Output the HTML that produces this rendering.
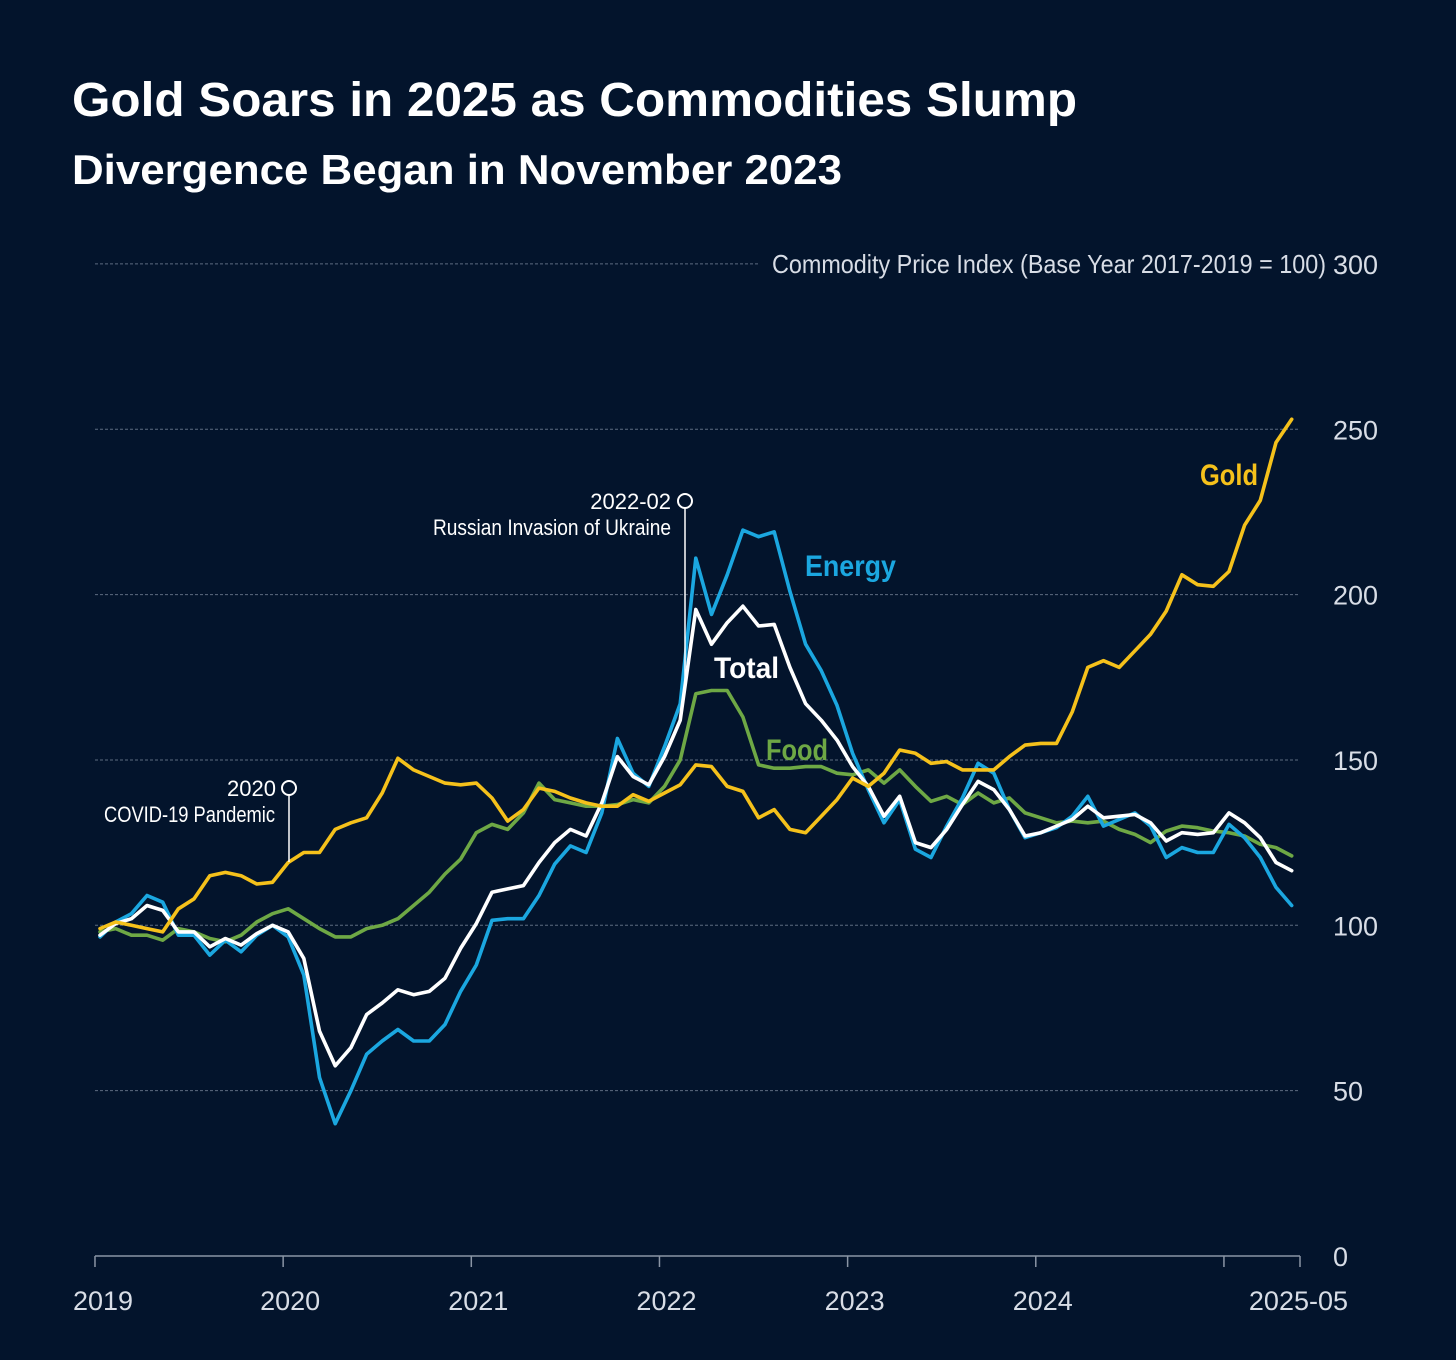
<!DOCTYPE html>
<html><head><meta charset="utf-8">
<style>
html,body{margin:0;padding:0;background:#03142c;}
svg{display:block;font-family:"Liberation Sans",sans-serif;}
</style></head>
<body>
<svg id="chart" width="1456" height="1360" viewBox="0 0 1456 1360" xmlns="http://www.w3.org/2000/svg">
<rect x="0" y="0" width="1456" height="1360" fill="#03142c"/>
<text x="72" y="116" fill="#ffffff" font-size="48" font-weight="bold" textLength="1005" lengthAdjust="spacingAndGlyphs">Gold Soars in 2025 as Commodities Slump</text>
<text x="72" y="184" fill="#ffffff" font-size="42" font-weight="bold" textLength="770" lengthAdjust="spacingAndGlyphs">Divergence Began in November 2023</text>
<text x="1326" y="273" fill="#d8dde6" font-size="26" text-anchor="end" textLength="554" lengthAdjust="spacingAndGlyphs">Commodity Price Index (Base Year 2017-2019 = 100)</text>
<g id="grid"></g>
<g id="axis"></g>
<g id="series"></g>
<g id="annotations">
  <line x1="289" y1="795" x2="289" y2="862" stroke="#ffffff" stroke-width="1.5"/>
  <circle cx="289" cy="788" r="7" fill="none" stroke="#ffffff" stroke-width="2"/>
  <text x="276" y="796" fill="#ffffff" font-size="22" text-anchor="end">2020</text>
  <text x="275" y="822" fill="#ffffff" font-size="22" text-anchor="end" textLength="171" lengthAdjust="spacingAndGlyphs">COVID-19 Pandemic</text>
  <line x1="685" y1="508" x2="685" y2="692" stroke="#ffffff" stroke-width="1.5"/>
  <circle cx="685" cy="501" r="7" fill="none" stroke="#ffffff" stroke-width="2"/>
  <text x="671" y="509" fill="#ffffff" font-size="22" text-anchor="end">2022-02</text>
  <text x="671" y="535" fill="#ffffff" font-size="22" text-anchor="end" textLength="238" lengthAdjust="spacingAndGlyphs">Russian Invasion of Ukraine</text>
</g>
<text x="805" y="576" fill="#1ba7e0" font-size="30" font-weight="bold" textLength="91" lengthAdjust="spacingAndGlyphs">Energy</text>
<text x="714" y="678" fill="#ffffff" font-size="30" font-weight="bold" textLength="65" lengthAdjust="spacingAndGlyphs">Total</text>
<text x="766" y="760" fill="#6ea845" font-size="30" font-weight="bold" textLength="62" lengthAdjust="spacingAndGlyphs">Food</text>
<text x="1200" y="485" fill="#f5c11b" font-size="30" font-weight="bold" textLength="58" lengthAdjust="spacingAndGlyphs">Gold</text>
</svg>
<script>
const yTicks = [0, 50, 100, 150, 200, 250, 300];
const xTickLabels = ["2019", "2020", "2021", "2022", "2023", "2024", "2025-05"];
const xTickMonths = [0, 12, 24, 36, 48, 60, 76];
const goldValues = [99,101,100,99,98,105,108,115,116,115,112.5,113,119,122,122,129,131,132.5,140,150.5,147,145,143,142.5,143,138.5,131.5,135,141.5,140.5,138.5,137,136,136,139.5,137.5,140,142.5,148.5,148,142,140.5,132.5,135,129,128,133,138,144.5,142,146,153,152,149,149.5,147,147,147,151,154.5,155,155,164.5,178,180,178,183,188,195,206,203,202.5,207,221,228.5,246,253];
const energyValues = [96.5,101,103.5,109,107,97,97,91,95.5,92,97,100,96.5,85,54,40,50,61,65,68.5,65,65,70,80,88,101.5,102,102,109,118.5,124,122,134,156.5,146,142,154,167,211,194,206,219.5,217.5,219,201,185,177,166.5,152,141,131,138,123,120.5,130,138.5,149,146,135,126.5,128,129.5,133,139,130,132,134,130,120.5,123.5,122,122,130.5,126.5,120.5,111.5,106];
const totalValues = [97,100.5,102,106,104.5,98,98,93.5,96,94,97.5,100,98,90,68,57.5,63,73,76.5,80.5,79,80,84,93,100.5,110,111,112,119,125,129,127,137,151,145,142.5,151,162,195.5,185,191.5,196.5,190.5,191,178,167,162,156,148,142,133,139,125,123.5,129,136.5,143.5,141,135,127,128,130,132,136,132.5,133,133.5,131,125.5,128,127.5,128,134,131,126.5,119,116.5];
const foodValues = [98,99,97,97,95.5,99,98,96,95,97,101,103.5,105,102,99,96.5,96.5,99,100,102,106,110,115.5,120,128,130.5,129,134,143,138,137,136,136,136.5,138,137,142,150,170,171,171,163,148.5,147.5,147.5,148,148,146,145.5,147,143,147,142,137.5,139,136.5,140,137,138.5,134,132.5,131,131.5,131,131.5,129,127.5,125,128.5,130,129.5,128.5,128,127,124.5,123.5,121];

const NS = "http://www.w3.org/2000/svg";
function xScale(m){ return 100 + m * 15.68; }
function yScale(v){ return 1256 - v * 3.307; }
function mk(tag, attrs){ const e = document.createElementNS(NS, tag); for (const k in attrs) e.setAttribute(k, attrs[k]); return e; }

const grid = document.getElementById('grid');
yTicks.forEach(v => {
  const y = yScale(v);
  if (v > 0) {
    const ln = mk('line', {x1:95, x2: v === 300 ? 760 : 1300, y1:y, y2:y, stroke:'#5d6b80', 'stroke-width':1, 'stroke-dasharray':'3 2'});
    
    
    grid.appendChild(ln);
  }
  const t = mk('text', {x:1333, y:y+10, fill:'#d8dde6', 'font-size':27});
  t.textContent = v;
  
  
  grid.appendChild(t);
});

const axis = document.getElementById('axis');
const base = mk('line', {x1:95, x2:1300, y1:1256, y2:1256, stroke:'#8a95a5', 'stroke-width':1.5});


axis.appendChild(base);
const tickMonths = [0,12,24,36,48,60,72,76];
tickMonths.forEach(m => {
  const x = m === 76 ? 1300 : xScale(m - 0.32);
  const tk = mk('line', {x1:x, x2:x, y1:1256, y2:1267, stroke:'#8a95a5', 'stroke-width':1.5});
  
  
  axis.appendChild(tk);
});
xTickLabels.forEach((lab, i) => {
  const m = xTickMonths[i];
  const last = i === xTickLabels.length - 1;
  const x = last ? 1348 : (i === 0 ? 73 : xScale(m - 0.32) + 7);
  const t = mk('text', {x:x, y:1310, fill:'#d8dde6', 'font-size':27, 'text-anchor': last ? 'end' : (i === 0 ? 'start' : 'middle')});
  t.textContent = lab;
  
  
  axis.appendChild(t);
});

const series = document.getElementById('series');
function drawLine(vals, color, name){
  const pts = vals.map((v, i) => xScale(i).toFixed(1) + ',' + yScale(v).toFixed(1)).join(' ');
  const pl = mk('polyline', {points:pts, fill:'none', stroke:color, 'stroke-width':3.6, 'stroke-linejoin':'round', 'stroke-linecap':'round'});
  
  
  series.appendChild(pl);
}
drawLine(foodValues, '#6ea845', 'food-line');
drawLine(energyValues, '#1ba7e0', 'energy-line');
drawLine(totalValues, '#ffffff', 'total-line');
drawLine(goldValues, '#f5c11b', 'gold-line');
</script>
</body></html>
